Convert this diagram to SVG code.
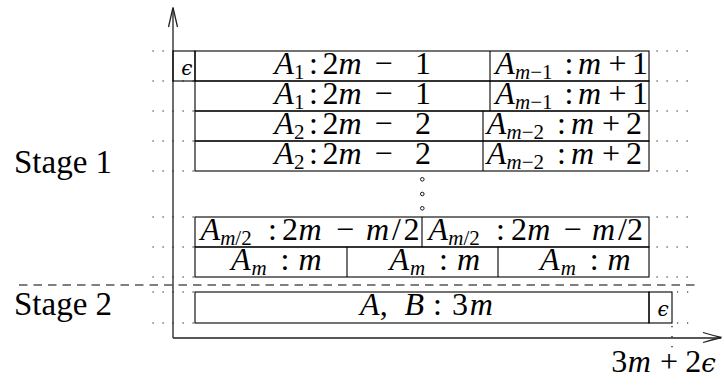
<svg xmlns="http://www.w3.org/2000/svg" width="724" height="387" viewBox="0 0 724 387">
<style>
.box{fill:none;stroke:#000;stroke-width:1.1}
.dot{fill:none;stroke:#000;stroke-width:1.2;stroke-dasharray:1.2 8.8}
.dash{fill:none;stroke:#000;stroke-width:1.1;stroke-dasharray:8.5 6}
.axis{fill:none;stroke:#222;stroke-width:1.3}
.t{font-family:'Liberation Serif','DejaVu Serif',serif;font-size:32px;fill:#000}
.i{font-style:italic}
.s{font-size:21px}
.e{font-family:'DejaVu Serif','Liberation Serif',serif;font-style:italic}
.lbl{font-family:'Liberation Serif','DejaVu Serif',serif;font-size:33px;fill:#000}
.ring{fill:#fff;stroke:#000;stroke-width:0.9}
</style>
<rect width="724" height="387" fill="#fff"/>

<g id="guides">
  <path class="dot" d="M152.5 51H171M656.5 51H692M152.5 81H196M656.5 81H692M152.5 111H196M656.5 111H692M152.5 141H196M656.5 141H692M152.5 171H196M656.5 171H692M152.5 217H196M656.5 217H692M152.5 247H196M656.5 247H692M152.5 277H196M656.5 277H692M152.5 292H196M677 292H692M152.5 323H196M677 323H692M672 326V352"/>
  <path class="dash" d="M19 285H696"/>
</g>

<g id="connectors">
  <path class="axis" d="M173 338V8M173 338H721"/>
  <path class="axis" d="M168.5 27Q171 16 173 7.5Q175 16 177.5 27"/>
  <path class="axis" d="M703 332.5Q713 335.5 721.5 337.5Q713 339.5 703 342.5"/>
</g>

<g id="stage-labels">
  <text class="lbl" x="14" y="172.5">Stage 1</text>
  <text class="lbl" x="14" y="315">Stage 2</text>
</g>

<g id="row1-eps">
  <rect class="box" x="173" y="51" width="22" height="30"/>
  <text class="t e" x="181.2" y="74.5" style="font-size:20px">ϵ</text>
</g>

<g id="row1">
  <rect class="box" x="195" y="51" width="454" height="30"/>
  <path class="box" d="M490 51V81"/>
  <text class="t"><tspan class="i" x="274.3" y="73.5">A</tspan><tspan class="s" x="294" y="78.5">1</tspan><tspan x="309" y="73.5">:</tspan><tspan x="322.5">2</tspan><tspan class="i" x="338.5">m</tspan><tspan x="374.4">−</tspan><tspan x="415">1</tspan></text>
  <text class="t"><tspan class="i" x="495.2" y="73.5">A</tspan><tspan class="s" x="515" y="78.5"><tspan class="i">m</tspan>−1</tspan><tspan x="564.6" y="73.5">:</tspan><tspan class="i" x="578">m</tspan><tspan x="608.5">+</tspan><tspan x="632">1</tspan></text>
</g>

<g id="row2">
  <rect class="box" x="195" y="81" width="454" height="30"/>
  <path class="box" d="M490 81V111"/>
  <text class="t"><tspan class="i" x="274.3" y="103.5">A</tspan><tspan class="s" x="294" y="108.5">1</tspan><tspan x="309" y="103.5">:</tspan><tspan x="322.5">2</tspan><tspan class="i" x="338.5">m</tspan><tspan x="374.4">−</tspan><tspan x="415">1</tspan></text>
  <text class="t"><tspan class="i" x="495.2" y="103.5">A</tspan><tspan class="s" x="515" y="108.5"><tspan class="i">m</tspan>−1</tspan><tspan x="564.6" y="103.5">:</tspan><tspan class="i" x="578">m</tspan><tspan x="608.5">+</tspan><tspan x="632">1</tspan></text>
</g>

<g id="row3">
  <rect class="box" x="195" y="111" width="454" height="30"/>
  <path class="box" d="M483 111V141"/>
  <text class="t"><tspan class="i" x="274.3" y="133.5">A</tspan><tspan class="s" x="294" y="138.5">2</tspan><tspan x="309" y="133.5">:</tspan><tspan x="322.5">2</tspan><tspan class="i" x="338.5">m</tspan><tspan x="374.4">−</tspan><tspan x="415">2</tspan></text>
  <text class="t"><tspan class="i" x="486.8" y="133.5">A</tspan><tspan class="s" x="506.5" y="138.5"><tspan class="i">m</tspan>−2</tspan><tspan x="557.1" y="133.5">:</tspan><tspan class="i" x="571">m</tspan><tspan x="601.9">+</tspan><tspan x="626">2</tspan></text>
</g>

<g id="row4">
  <rect class="box" x="195" y="141" width="454" height="30"/>
  <path class="box" d="M483 141V171"/>
  <text class="t"><tspan class="i" x="274.3" y="163.5">A</tspan><tspan class="s" x="294" y="168.5">2</tspan><tspan x="309" y="163.5">:</tspan><tspan x="322.5">2</tspan><tspan class="i" x="338.5">m</tspan><tspan x="374.4">−</tspan><tspan x="415">2</tspan></text>
  <text class="t"><tspan class="i" x="486.8" y="163.5">A</tspan><tspan class="s" x="506.5" y="168.5"><tspan class="i">m</tspan>−2</tspan><tspan x="557.1" y="163.5">:</tspan><tspan class="i" x="571">m</tspan><tspan x="601.9">+</tspan><tspan x="626">2</tspan></text>
</g>

<g id="ellipsis">
  <circle class="ring" cx="422.3" cy="179.3" r="1.8"/>
  <circle class="ring" cx="422.3" cy="194" r="1.8"/>
  <circle class="ring" cx="422.3" cy="208.3" r="1.8"/>
</g>

<g id="row-half">
  <rect class="box" x="195" y="217" width="454" height="30"/>
  <path class="box" d="M422 217V247"/>
  <text class="t"><tspan class="i" x="200.5" y="240">A</tspan><tspan class="s" x="220.2" y="245"><tspan class="i">m</tspan>/2</tspan><tspan x="268.1" y="240">:</tspan><tspan x="282">2</tspan><tspan class="i" x="298.5">m</tspan><tspan x="336">−</tspan><tspan class="i" x="366">m</tspan><tspan x="392.1">/</tspan><tspan x="403.5">2</tspan></text>
  <text class="t"><tspan class="i" x="428.5" y="240">A</tspan><tspan class="s" x="448.3" y="245"><tspan class="i">m</tspan>/2</tspan><tspan x="496.1" y="240">:</tspan><tspan x="511">2</tspan><tspan class="i" x="527.2">m</tspan><tspan x="563.5">−</tspan><tspan class="i" x="592">m</tspan><tspan x="617.9">/</tspan><tspan x="627">2</tspan></text>
</g>

<g id="row-m">
  <rect class="box" x="195" y="247" width="454" height="30"/>
  <path class="box" d="M347 247V277M498 247V277"/>
  <text class="t"><tspan class="i" x="231" y="270">A</tspan><tspan class="s i" x="251.5" y="275">m</tspan><tspan x="280.6" y="270">:</tspan><tspan class="i" x="298.5">m</tspan></text>
  <text class="t"><tspan class="i" x="389.4" y="270">A</tspan><tspan class="s i" x="409.9" y="275">m</tspan><tspan x="439" y="270">:</tspan><tspan class="i" x="456.9">m</tspan></text>
  <text class="t"><tspan class="i" x="540.1" y="270">A</tspan><tspan class="s i" x="560.8" y="275">m</tspan><tspan x="589.8" y="270">:</tspan><tspan class="i" x="607.5">m</tspan></text>
</g>

<g id="stage2">
  <rect class="box" x="195" y="292" width="454" height="31"/>
  <text class="t"><tspan class="i" x="360.1" y="315">A</tspan><tspan x="379.7">,</tspan><tspan class="i" x="404.6">B</tspan><tspan x="433.1">:</tspan><tspan x="452">3</tspan><tspan class="i" x="469.7">m</tspan></text>
</g>

<g id="stage2-eps">
  <rect class="box" x="649" y="292" width="23" height="31"/>
  <text class="t e" x="657.4" y="315.5" style="font-size:20px">ϵ</text>
</g>

<g id="x-label">
  <text class="t"><tspan x="611.2" y="372">3</tspan><tspan class="i" x="627.7">m</tspan><tspan x="660">+</tspan><tspan x="685.3">2</tspan><tspan class="e" x="701.3" style="font-size:26px">ϵ</tspan></text>
</g>
</svg>
